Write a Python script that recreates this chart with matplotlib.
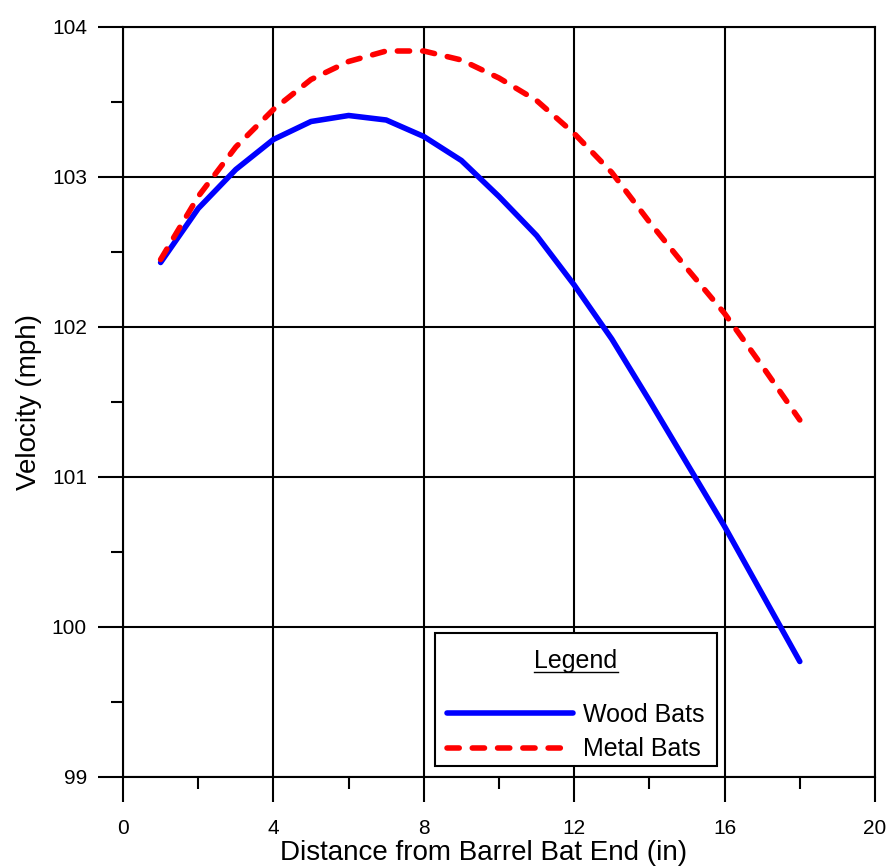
import numpy as np
import matplotlib
matplotlib.use("Agg")
import matplotlib.pyplot as plt
from matplotlib.patches import Rectangle
from matplotlib.lines import Line2D

plt.rcParams['font.family'] = ['Liberation Sans', 'DejaVu Sans']

# data
distance = [1, 2, 3, 4, 5, 6, 7, 8, 9, 10, 11, 12, 13, 14, 15, 16, 17, 18]
wood = [102.43, 102.79, 103.05, 103.25, 103.37, 103.41, 103.38, 103.27, 103.11,
        102.87, 102.61, 102.28, 101.92, 101.51, 101.09, 100.67, 100.22, 99.77]
metal = [102.45, 102.87, 103.20, 103.45, 103.65, 103.77, 103.84, 103.84, 103.78,
         103.66, 103.51, 103.29, 103.03, 102.70, 102.39, 102.09, 101.74, 101.38]
x_ticks = [0, 4, 8, 12, 16, 20]
y_ticks = [99, 100, 101, 102, 103, 104]

fig = plt.figure(figsize=(8.87, 8.67), dpi=100)
ax = fig.add_axes([123/887, 1 - 777/867, 752/887, 750/867])

ax.plot(distance, wood, color='#0000ff', lw=4.0, solid_capstyle='round',
        solid_joinstyle='round', label='Wood Bats', zorder=3)
ax.plot(distance, metal, color='#ff0000', lw=4.0, linestyle=(0, (2.2, 2.35)),
        dash_capstyle='round', dash_joinstyle='round', label='Metal Bats', zorder=3)

ax.set_xlim(0, 20)
ax.set_ylim(99, 104)
ax.set_xticks(x_ticks)
ax.set_yticks(y_ticks)
ax.set_xticks(np.arange(2, 20, 4), minor=True)
ax.set_yticks(np.arange(99.5, 104, 1), minor=True)
ax.grid(True, which='major', color='black', lw=1.5, zorder=1)
ax.set_axisbelow(True)
for s in ax.spines.values():
    s.set_linewidth(1.5)

ax.tick_params(axis='both', which='major', direction='out', length=18, width=1.5,
               labelsize=15)
ax.tick_params(axis='both', which='minor', direction='out', length=8.6, width=1.5)
ax.tick_params(axis='x', which='major', pad=12)
ax.tick_params(axis='y', which='major', pad=8)

ax.set_xlabel('Distance from Barrel Bat End (in)', fontsize=20, labelpad=2)
ax.xaxis.label.set_x(0.48)
ax.set_ylabel('Velocity (mph)', fontsize=20, labelpad=7)

# legend box
box = Rectangle((0.415, 0.0147), 0.375, 0.1773, transform=ax.transAxes,
                facecolor='white', edgecolor='black', lw=1.5, zorder=4)
ax.add_patch(box)
title = ax.text(0.6024, 0.1453, 'Legend', transform=ax.transAxes, ha='center',
                va='baseline', fontsize=18, zorder=5)
leg = ax.legend(loc='center left', bbox_to_anchor=(0.431, 0.060), frameon=False,
                fontsize=18, handlelength=5.04, handletextpad=0.4,
                labelspacing=0.42, borderpad=0, borderaxespad=0)
leg.set_zorder(6)

fig.canvas.draw()
bb = title.get_window_extent()
fig.add_artist(Line2D([bb.x0, bb.x1], [bb.y0 + 1, bb.y0 + 1], transform=None,
                      color='black', lw=1.0, zorder=7))

fig.savefig('out.png', dpi=100)
